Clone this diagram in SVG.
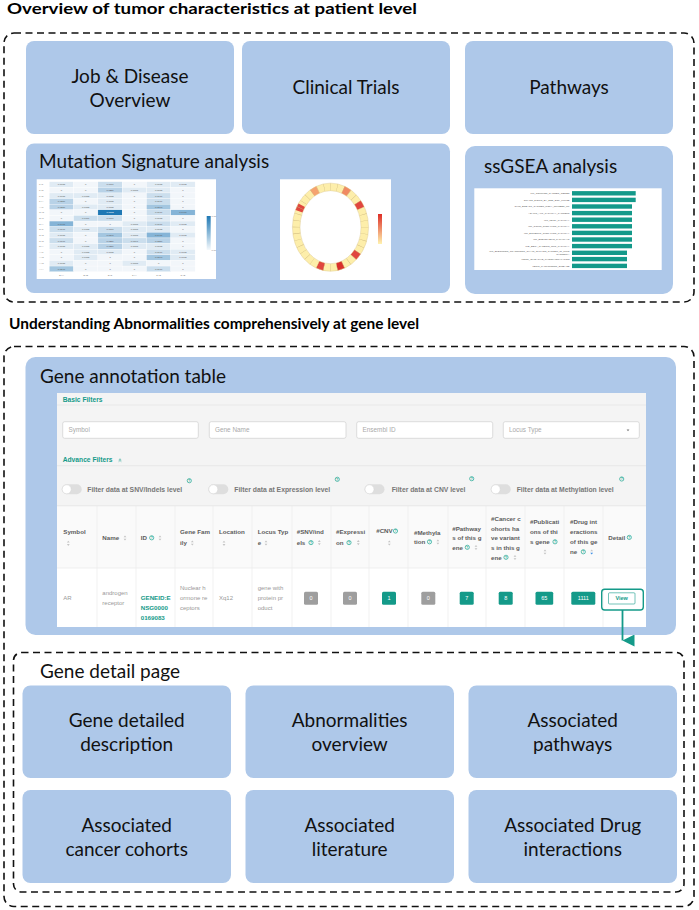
<svg xmlns="http://www.w3.org/2000/svg" width="699" height="910" viewBox="0 0 699 910">
<defs>
<style>
.dash{fill:none;stroke:#111;stroke-width:1.6;stroke-dasharray:7 4.5}
.box{fill:#aec8e9}
.lbl{font-family:Lato,"Open Sans","Liberation Sans",sans-serif;font-size:19px;fill:#111;text-anchor:middle}
.lbs{font-family:Lato,"Open Sans","Liberation Sans",sans-serif;font-size:19px;fill:#111}
.ttl{font-family:Lato,"Liberation Sans",sans-serif;font-weight:bold;font-size:15.5px;fill:#000}
.th{font-family:"Liberation Sans",Arial,sans-serif;font-size:6.2px;font-weight:bold;fill:#5c5c5c}
.td{font-family:"Liberation Sans",Arial,sans-serif;font-size:6px;fill:#999}
.tl{font-family:"Liberation Sans",Arial,sans-serif;font-size:6.7px;font-weight:bold;fill:#149a89}
.fl{font-family:"Liberation Sans",Arial,sans-serif;font-size:6.8px;font-weight:bold;fill:#777}
.ph{font-family:"Liberation Sans",Arial,sans-serif;font-size:6.4px;fill:#aaa}
.inp{fill:#fff;stroke:#cfcfcf;stroke-width:0.7}
.tog{fill:#dedede}
.knob{fill:#fff;stroke:#d4d4d4;stroke-width:0.5}
.qi{fill:none;stroke:#1aa58f;stroke-width:0.7}
.qt{font-family:"Liberation Sans",Arial,sans-serif;font-size:3.2px;font-weight:bold;fill:#1aa58f;text-anchor:middle}
.vl{stroke:#ebebeb;stroke-width:0.7}
.bg{fill:#9e9e9e}
.bt{fill:#149a89}
.bx{font-family:"Liberation Sans",Arial,sans-serif;font-size:5.5px;fill:#fff;text-anchor:middle}
.hv{font-family:"Liberation Sans",Arial,sans-serif;font-size:2.4px;fill:#555;text-anchor:middle}
.hl{font-family:"Liberation Sans",Arial,sans-serif;font-size:2.4px;fill:#777}
.v0{fill:#f2f6fa}.v1{fill:#e0ebf4}.v2{fill:#cbdeed}.v3{fill:#b8d2e7}.v4{fill:#a3c6e0}.v5{fill:#85b4d7}.v6{fill:#1f78b4}
.cell rect{stroke:#fff;stroke-width:0.3}
.gs{font-family:"Liberation Sans",Arial,sans-serif;font-size:2.5px;fill:#555;text-anchor:end}
.bar{fill:#13998a}
</style>
<symbol id="sort" viewBox="-2 -4 4 8" width="4" height="8" overflow="visible">
<path d="M-1.4,-0.7 L0,-2.6 L1.4,-0.7 Z M-1.4,0.7 L0,2.6 L1.4,0.7 Z" fill="#c4c4c4"/>
</symbol>
<linearGradient id="gblue" x1="0" y1="0" x2="0" y2="1"><stop offset="0" stop-color="#1f78b4"/><stop offset="1" stop-color="#f5f9fc"/></linearGradient>
<linearGradient id="gred" x1="0" y1="0" x2="0" y2="1"><stop offset="0" stop-color="#de2d26"/><stop offset="1" stop-color="#fff3b0"/></linearGradient>
<marker id="ah" viewBox="0 0 12 12" refX="6" refY="12" markerWidth="12" markerHeight="12" markerUnits="userSpaceOnUse" orient="auto-start-reverse"><path d="M0,0 L12,0 L6,12 Z" fill="#149a89"/></marker>
</defs>

<rect width="699" height="910" fill="#fff"/>

<!-- Section 1 -->
<text class="ttl" x="7" y="14" textLength="410" lengthAdjust="spacingAndGlyphs">Overview of tumor characteristics at patient level</text>
<rect id="section-patient" class="dash" x="4" y="33" width="690" height="269" rx="10"/>

<g id="job-disease">
<rect class="box" x="26" y="41" width="208" height="93" rx="8"/>
<text class="lbl" x="130" y="83">Job &amp; Disease</text>
<text class="lbl" x="130" y="107">Overview</text>
</g>
<g id="clinical-trials">
<rect class="box" x="242" y="41" width="208" height="93" rx="8"/>
<text class="lbl" x="346" y="94">Clinical Trials</text>
</g>
<g id="pathways">
<rect class="box" x="465" y="41" width="208" height="93" rx="8"/>
<text class="lbl" x="569" y="94">Pathways</text>
</g>

<g id="mutation-signature">
<rect class="box" x="26" y="143.5" width="424" height="149.5" rx="8"/>
<text class="lbs" x="39" y="168">Mutation Signature analysis</text>
<!-- heatmap -->
<rect x="36.7" y="179.3" width="179.3" height="99.7" fill="#fff"/>
<g class="cell">
<g transform="translate(0,181.7)"><rect class="v1" x="49.3" y="0" width="24.3" height="5.625"/><rect class="v0" x="73.6" y="0" width="24.3" height="5.625"/><rect class="v2" x="97.9" y="0" width="24.3" height="5.625"/><rect class="v0" x="122.2" y="0" width="24.3" height="5.625"/><rect class="v1" x="146.5" y="0" width="24.3" height="5.625"/><rect class="v1" x="170.8" y="0" width="24.3" height="5.625"/>
<text class="hv" x="61.45" y="3.6">0.0085</text><text class="hv" x="85.75" y="3.6">0</text><text class="hv" x="110.05" y="3.6">0.0177</text><text class="hv" x="134.35" y="3.6">0</text><text class="hv" x="158.65" y="3.6">0.0085</text><text class="hv" x="182.95" y="3.6">0.0085</text><text class="hl" x="39" y="3.6">T&gt;T</text></g>
<g transform="translate(0,187.325)"><rect class="v0" x="49.3" y="0" width="24.3" height="5.625"/><rect class="v0" x="73.6" y="0" width="24.3" height="5.625"/><rect class="v3" x="97.9" y="0" width="24.3" height="5.625"/><rect class="v1" x="122.2" y="0" width="24.3" height="5.625"/><rect class="v1" x="146.5" y="0" width="24.3" height="5.625"/><rect class="v0" x="170.8" y="0" width="24.3" height="5.625"/>
<text class="hv" x="61.45" y="3.6">0</text><text class="hv" x="85.75" y="3.6">0</text><text class="hv" x="110.05" y="3.6">0.0256</text><text class="hv" x="134.35" y="3.6">0.0085</text><text class="hv" x="158.65" y="3.6">0.0085</text><text class="hv" x="182.95" y="3.6">0</text><text class="hl" x="39" y="3.6">T&gt;G</text></g>
<g transform="translate(0,192.95)"><rect class="v1" x="49.3" y="0" width="24.3" height="5.625"/><rect class="v1" x="73.6" y="0" width="24.3" height="5.625"/><rect class="v1" x="97.9" y="0" width="24.3" height="5.625"/><rect class="v0" x="122.2" y="0" width="24.3" height="5.625"/><rect class="v2" x="146.5" y="0" width="24.3" height="5.625"/><rect class="v0" x="170.8" y="0" width="24.3" height="5.625"/>
<text class="hv" x="61.45" y="3.6">0.0085</text><text class="hv" x="85.75" y="3.6">0.0085</text><text class="hv" x="110.05" y="3.6">0.0085</text><text class="hv" x="134.35" y="3.6">0</text><text class="hv" x="158.65" y="3.6">0.0177</text><text class="hv" x="182.95" y="3.6">0</text><text class="hl" x="39" y="3.6">T&gt;C</text></g>
<g transform="translate(0,198.575)"><rect class="v3" x="49.3" y="0" width="24.3" height="5.625"/><rect class="v0" x="73.6" y="0" width="24.3" height="5.625"/><rect class="v1" x="97.9" y="0" width="24.3" height="5.625"/><rect class="v0" x="122.2" y="0" width="24.3" height="5.625"/><rect class="v2" x="146.5" y="0" width="24.3" height="5.625"/><rect class="v0" x="170.8" y="0" width="24.3" height="5.625"/>
<text class="hv" x="61.45" y="3.6">0.0256</text><text class="hv" x="85.75" y="3.6">0</text><text class="hv" x="110.05" y="3.6">0.0085</text><text class="hv" x="134.35" y="3.6">0</text><text class="hv" x="158.65" y="3.6">0.0177</text><text class="hv" x="182.95" y="3.6">0</text><text class="hl" x="39" y="3.6">T&gt;A</text></g>
<g transform="translate(0,204.2)"><rect class="v3" x="49.3" y="0" width="24.3" height="5.625"/><rect class="v1" x="73.6" y="0" width="24.3" height="5.625"/><rect class="v1" x="97.9" y="0" width="24.3" height="5.625"/><rect class="v0" x="122.2" y="0" width="24.3" height="5.625"/><rect class="v4" x="146.5" y="0" width="24.3" height="5.625"/><rect class="v0" x="170.8" y="0" width="24.3" height="5.625"/>
<text class="hv" x="61.45" y="3.6">0.0256</text><text class="hv" x="85.75" y="3.6">0.0085</text><text class="hv" x="110.05" y="3.6">0.0085</text><text class="hv" x="134.35" y="3.6">0</text><text class="hv" x="158.65" y="3.6">0.0340</text><text class="hv" x="182.95" y="3.6">0</text><text class="hl" x="39" y="3.6">A&gt;T</text></g>
<g transform="translate(0,209.825)"><rect class="v0" x="49.3" y="0" width="24.3" height="5.625"/><rect class="v0" x="73.6" y="0" width="24.3" height="5.625"/><rect class="v6" x="97.9" y="0" width="24.3" height="5.625"/><rect class="v0" x="122.2" y="0" width="24.3" height="5.625"/><rect class="v2" x="146.5" y="0" width="24.3" height="5.625"/><rect class="v5" x="170.8" y="0" width="24.3" height="5.625"/>
<text class="hv" x="61.45" y="3.6">0</text><text class="hv" x="85.75" y="3.6">0</text><text class="hv" x="110.05" y="3.6" style="fill:#fff">0.0803</text><text class="hv" x="134.35" y="3.6">0</text><text class="hv" x="158.65" y="3.6">0.0177</text><text class="hv" x="182.95" y="3.6">0.0467</text><text class="hl" x="39" y="3.6">G&gt;G</text></g>
<g transform="translate(0,215.45)"><rect class="v0" x="49.3" y="0" width="24.3" height="5.625"/><rect class="v2" x="73.6" y="0" width="24.3" height="5.625"/><rect class="v2" x="97.9" y="0" width="24.3" height="5.625"/><rect class="v0" x="122.2" y="0" width="24.3" height="5.625"/><rect class="v1" x="146.5" y="0" width="24.3" height="5.625"/><rect class="v0" x="170.8" y="0" width="24.3" height="5.625"/>
<text class="hv" x="61.45" y="3.6">0</text><text class="hv" x="85.75" y="3.6">0.0177</text><text class="hv" x="110.05" y="3.6">0.0177</text><text class="hv" x="134.35" y="3.6">0</text><text class="hv" x="158.65" y="3.6">0.0085</text><text class="hv" x="182.95" y="3.6">0</text><text class="hl" x="39" y="3.6">G&gt;T</text></g>
<g transform="translate(0,221.075)"><rect class="v5" x="49.3" y="0" width="24.3" height="5.625"/><rect class="v0" x="73.6" y="0" width="24.3" height="5.625"/><rect class="v0" x="97.9" y="0" width="24.3" height="5.625"/><rect class="v1" x="122.2" y="0" width="24.3" height="5.625"/><rect class="v2" x="146.5" y="0" width="24.3" height="5.625"/><rect class="v1" x="170.8" y="0" width="24.3" height="5.625"/>
<text class="hv" x="61.45" y="3.6">0.0467</text><text class="hv" x="85.75" y="3.6">0</text><text class="hv" x="110.05" y="3.6">0</text><text class="hv" x="134.35" y="3.6">0.0085</text><text class="hv" x="158.65" y="3.6">0.0177</text><text class="hv" x="182.95" y="3.6">0.0085</text><text class="hl" x="39" y="3.6">C&gt;A</text></g>
<g transform="translate(0,226.7)"><rect class="v2" x="49.3" y="0" width="24.3" height="5.625"/><rect class="v1" x="73.6" y="0" width="24.3" height="5.625"/><rect class="v2" x="97.9" y="0" width="24.3" height="5.625"/><rect class="v1" x="122.2" y="0" width="24.3" height="5.625"/><rect class="v1" x="146.5" y="0" width="24.3" height="5.625"/><rect class="v0" x="170.8" y="0" width="24.3" height="5.625"/>
<text class="hv" x="61.45" y="3.6">0.0177</text><text class="hv" x="85.75" y="3.6">0.0085</text><text class="hv" x="110.05" y="3.6">0.0177</text><text class="hv" x="134.35" y="3.6">0.0085</text><text class="hv" x="158.65" y="3.6">0.0085</text><text class="hv" x="182.95" y="3.6">0</text><text class="hl" x="39" y="3.6">C&gt;T</text></g>
<g transform="translate(0,232.325)"><rect class="v1" x="49.3" y="0" width="24.3" height="5.625"/><rect class="v0" x="73.6" y="0" width="24.3" height="5.625"/><rect class="v4" x="97.9" y="0" width="24.3" height="5.625"/><rect class="v1" x="122.2" y="0" width="24.3" height="5.625"/><rect class="v5" x="146.5" y="0" width="24.3" height="5.625"/><rect class="v1" x="170.8" y="0" width="24.3" height="5.625"/>
<text class="hv" x="61.45" y="3.6">0.0085</text><text class="hv" x="85.75" y="3.6">0</text><text class="hv" x="110.05" y="3.6">0.0340</text><text class="hv" x="134.35" y="3.6">0.0085</text><text class="hv" x="158.65" y="3.6">0.0467</text><text class="hv" x="182.95" y="3.6">0.0085</text><text class="hl" x="39" y="3.6">C&gt;G</text></g>
<g transform="translate(0,237.95)"><rect class="v2" x="49.3" y="0" width="24.3" height="5.625"/><rect class="v0" x="73.6" y="0" width="24.3" height="5.625"/><rect class="v3" x="97.9" y="0" width="24.3" height="5.625"/><rect class="v2" x="122.2" y="0" width="24.3" height="5.625"/><rect class="v3" x="146.5" y="0" width="24.3" height="5.625"/><rect class="v0" x="170.8" y="0" width="24.3" height="5.625"/>
<text class="hv" x="61.45" y="3.6">0.0177</text><text class="hv" x="85.75" y="3.6">0</text><text class="hv" x="110.05" y="3.6">0.0256</text><text class="hv" x="134.35" y="3.6">0.0177</text><text class="hv" x="158.65" y="3.6">0.0256</text><text class="hv" x="182.95" y="3.6">0</text><text class="hl" x="39" y="3.6">C&gt;C</text></g>
<g transform="translate(0,243.575)"><rect class="v1" x="49.3" y="0" width="24.3" height="5.625"/><rect class="v1" x="73.6" y="0" width="24.3" height="5.625"/><rect class="v3" x="97.9" y="0" width="24.3" height="5.625"/><rect class="v1" x="122.2" y="0" width="24.3" height="5.625"/><rect class="v1" x="146.5" y="0" width="24.3" height="5.625"/><rect class="v0" x="170.8" y="0" width="24.3" height="5.625"/>
<text class="hv" x="61.45" y="3.6">0.0085</text><text class="hv" x="85.75" y="3.6">0.0085</text><text class="hv" x="110.05" y="3.6">0.0256</text><text class="hv" x="134.35" y="3.6">0.0085</text><text class="hv" x="158.65" y="3.6">0.0085</text><text class="hv" x="182.95" y="3.6">0</text><text class="hl" x="39" y="3.6">C&gt;A</text></g>
<g transform="translate(0,249.2)"><rect class="v0" x="49.3" y="0" width="24.3" height="5.625"/><rect class="v1" x="73.6" y="0" width="24.3" height="5.625"/><rect class="v1" x="97.9" y="0" width="24.3" height="5.625"/><rect class="v0" x="122.2" y="0" width="24.3" height="5.625"/><rect class="v2" x="146.5" y="0" width="24.3" height="5.625"/><rect class="v1" x="170.8" y="0" width="24.3" height="5.625"/>
<text class="hv" x="61.45" y="3.6">0</text><text class="hv" x="85.75" y="3.6">0.0085</text><text class="hv" x="110.05" y="3.6">0.0085</text><text class="hv" x="134.35" y="3.6">0</text><text class="hv" x="158.65" y="3.6">0.0177</text><text class="hv" x="182.95" y="3.6">0.0085</text><text class="hl" x="39" y="3.6">A&gt;T</text></g>
<g transform="translate(0,254.825)"><rect class="v0" x="49.3" y="0" width="24.3" height="5.625"/><rect class="v1" x="73.6" y="0" width="24.3" height="5.625"/><rect class="v0" x="97.9" y="0" width="24.3" height="5.625"/><rect class="v0" x="122.2" y="0" width="24.3" height="5.625"/><rect class="v4" x="146.5" y="0" width="24.3" height="5.625"/><rect class="v1" x="170.8" y="0" width="24.3" height="5.625"/>
<text class="hv" x="61.45" y="3.6">0</text><text class="hv" x="85.75" y="3.6">0.0085</text><text class="hv" x="110.05" y="3.6">0</text><text class="hv" x="134.35" y="3.6">0</text><text class="hv" x="158.65" y="3.6">0.0340</text><text class="hv" x="182.95" y="3.6">0.0085</text><text class="hl" x="39" y="3.6">A&gt;G</text></g>
<g transform="translate(0,260.45)"><rect class="v1" x="49.3" y="0" width="24.3" height="5.625"/><rect class="v0" x="73.6" y="0" width="24.3" height="5.625"/><rect class="v0" x="97.9" y="0" width="24.3" height="5.625"/><rect class="v1" x="122.2" y="0" width="24.3" height="5.625"/><rect class="v0" x="146.5" y="0" width="24.3" height="5.625"/><rect class="v0" x="170.8" y="0" width="24.3" height="5.625"/>
<text class="hv" x="61.45" y="3.6">0.0085</text><text class="hv" x="85.75" y="3.6">0</text><text class="hv" x="110.05" y="3.6">0</text><text class="hv" x="134.35" y="3.6">0.0085</text><text class="hv" x="158.65" y="3.6">0</text><text class="hv" x="182.95" y="3.6">0</text><text class="hl" x="39" y="3.6">A&gt;C</text></g>
<g transform="translate(0,266.075)"><rect class="v4" x="49.3" y="0" width="24.3" height="5.625"/><rect class="v0" x="73.6" y="0" width="24.3" height="5.625"/><rect class="v0" x="97.9" y="0" width="24.3" height="5.625"/><rect class="v0" x="122.2" y="0" width="24.3" height="5.625"/><rect class="v2" x="146.5" y="0" width="24.3" height="5.625"/><rect class="v0" x="170.8" y="0" width="24.3" height="5.625"/>
<text class="hv" x="61.45" y="3.6">0.0340</text><text class="hv" x="85.75" y="3.6">0</text><text class="hv" x="110.05" y="3.6">0</text><text class="hv" x="134.35" y="3.6">0</text><text class="hv" x="158.65" y="3.6">0.0177</text><text class="hv" x="182.95" y="3.6">0</text><text class="hl" x="39" y="3.6">A&gt;A</text></g>
</g>
<text class="hv" x="61.45" y="276">C&gt;A</text><text class="hv" x="85.75" y="276">C&gt;G</text><text class="hv" x="110.05" y="276">C&gt;T</text><text class="hv" x="134.35" y="276">T&gt;A</text><text class="hv" x="158.65" y="276">T&gt;C</text><text class="hv" x="182.95" y="276">T&gt;G</text>
<rect x="206.7" y="216" width="4" height="34" fill="url(#gblue)"/>
<text class="hl" x="211.5" y="217">0.08</text>
<text class="hl" x="211.5" y="251">0.00</text>
<!-- circos -->
<rect x="280" y="179.3" width="111" height="100.7" fill="#fff"/>
<ellipse cx="330.5" cy="227.2" rx="34.3" ry="40.3" fill="none" stroke="#fdeeaa" stroke-width="7.5"/>
<g fill="none" stroke-width="7.5">
<ellipse cx="330.5" cy="227.2" rx="34.3" ry="40.3" pathLength="360" stroke="#f5a36f" stroke-dasharray="10 350" stroke-dashoffset="-240"/>
<ellipse cx="330.5" cy="227.2" rx="34.3" ry="40.3" pathLength="360" stroke="#f08a62" stroke-dasharray="10 350" stroke-dashoffset="-290"/>
<ellipse cx="330.5" cy="227.2" rx="34.3" ry="40.3" pathLength="360" stroke="#e0463e" stroke-dasharray="10 350" stroke-dashoffset="-320"/>
<ellipse cx="330.5" cy="227.2" rx="34.3" ry="40.3" pathLength="360" stroke="#e0463e" stroke-dasharray="10 350" stroke-dashoffset="-205"/>
<ellipse cx="330.5" cy="227.2" rx="34.3" ry="40.3" pathLength="360" stroke="#e0463e" stroke-dasharray="10 350" stroke-dashoffset="-40"/>
<ellipse cx="330.5" cy="227.2" rx="34.3" ry="40.3" pathLength="360" stroke="#e0463e" stroke-dasharray="10 350" stroke-dashoffset="-100"/>
<ellipse cx="330.5" cy="227.2" rx="34.3" ry="40.3" pathLength="360" stroke="#d9302b" stroke-dasharray="10 350" stroke-dashoffset="-70"/>
<ellipse cx="330.5" cy="227.2" rx="34.3" ry="40.3" pathLength="360" stroke="#c9b27a" stroke-dasharray="0.5 9.5"/>
</g>
<ellipse cx="330.5" cy="227.2" rx="38.1" ry="44.1" fill="none" stroke="#d8c690" stroke-width="0.4"/>
<ellipse cx="330.5" cy="227.2" rx="30.5" ry="36.5" fill="none" stroke="#d8c690" stroke-width="0.4"/>
<rect x="378" y="214" width="4" height="30" fill="url(#gred)"/>
</g>

<g id="ssgsea">
<rect class="box" x="465" y="146" width="208" height="148" rx="10"/>
<text class="lbs" x="484" y="173">ssGSEA analysis</text>
<rect x="474.3" y="188.3" width="187.4" height="81.7" fill="#fff"/>
<text class="gs" x="569.5" y="194.2">LIU_COMMON_CANCER_GENES</text>
<text class="gs" x="569.5" y="200.8">ZWANG_DOWN_BY_2ND_EGF_PULSE</text>
<text class="gs" x="569.5" y="207.4">CHIN_BREAST_CANCER_COPY_NUMBER_UP</text>
<text class="gs" x="569.5" y="214">ADAMS_AKT_PATHWAY_TARGETS</text>
<text class="gs" x="569.5" y="220.6">WP_PDGF_PATHWAY</text>
<text class="gs" x="569.5" y="227.2">WP_CCL18_SIGNALING_PATHWAY</text>
<text class="gs" x="569.5" y="233.8">WP_EGFEGFR_SIGNALING_PATHWAY</text>
<text class="gs" x="569.5" y="240.4">WP_ENDOTHELIN_PATHWAYS</text>
<text class="gs" x="569.5" y="247">PID_BETA_CATENIN_NUC_PATHWAY</text>
<text class="gs" x="569.5" y="251.6">WP_ELECTRON_TRANSPORT_CHAIN_OXPHOS_SYSTEM_IN_MITO</text>
<text class="gs" x="569.5" y="254.8">CHONDRIA</text>
<text class="gs" x="569.5" y="260">KEGG_OXIDATIVE_PHOSPHORYLATION</text>
<text class="gs" x="569.5" y="266.8">KEGG_PARKINSONS_DISEASE</text>
<rect class="bar" x="572" y="191.1" width="63.7" height="4.4"/>
<rect class="bar" x="572" y="197.7" width="63.7" height="4.4"/>
<rect class="bar" x="572" y="204.3" width="60" height="4.4"/>
<rect class="bar" x="572" y="210.9" width="60" height="4.4"/>
<rect class="bar" x="572" y="217.5" width="60" height="4.4"/>
<rect class="bar" x="572" y="224.1" width="60" height="4.4"/>
<rect class="bar" x="572" y="230.7" width="60" height="4.4"/>
<rect class="bar" x="572" y="237.3" width="60" height="4.4"/>
<rect class="bar" x="572" y="243.9" width="60" height="4.4"/>
<rect class="bar" x="572" y="250.6" width="55" height="4.4"/>
<rect class="bar" x="572" y="256.9" width="55" height="4.4"/>
<rect class="bar" x="572" y="263.7" width="55" height="4.4"/>
</g>

<!-- Section 2 -->
<text class="ttl" x="9" y="329" textLength="410" lengthAdjust="spacingAndGlyphs">Understanding Abnormalities comprehensively at gene level</text>
<rect id="section-gene" class="dash" x="4" y="346.5" width="690" height="560" rx="10"/>

<g id="gene-annotation-table">
<rect class="box" x="25.5" y="357" width="650.5" height="278" rx="10"/>
<text class="lbs" x="40" y="383">Gene annotation table</text>
<rect x="57" y="393" width="589" height="234" fill="#f4f4f4"/>
<text class="tl" x="62.7" y="401.5">Basic Filters</text>
<line x1="57" y1="405" x2="646" y2="405" stroke="#e2e2e2" stroke-width="0.7"/>
<rect class="inp" x="62.7" y="421.7" width="135.6" height="16.6" rx="2"/>
<rect class="inp" x="209.3" y="421.7" width="136.7" height="16.6" rx="2"/>
<rect class="inp" x="356.7" y="421.7" width="136" height="16.6" rx="2"/>
<rect class="inp" x="503.3" y="421.7" width="136" height="16.6" rx="2"/>
<text class="ph" x="68.5" y="432.3">Symbol</text>
<text class="ph" x="215" y="432.3">Gene Name</text>
<text class="ph" x="362.5" y="432.3">Ensembl ID</text>
<text class="ph" x="509" y="432.3">Locus Type</text>
<path d="M626.6,429.4 L629.4,429.4 L628,431.2 Z" fill="#777"/>
<text class="tl" x="62.7" y="461.5">Advance Filters</text>
<path d="M118.7,460 L120,458.8 L121.3,460 M118.7,461.6 L120,460.4 L121.3,461.6" fill="none" stroke="#149a89" stroke-width="0.6"/>
<line x1="57" y1="465.7" x2="646" y2="465.7" stroke="#e2e2e2" stroke-width="0.7"/>
<!-- toggles -->
<rect class="tog" x="61.7" y="484.3" width="20" height="10" rx="5"/><circle class="knob" cx="66.7" cy="489.3" r="4.5"/>
<text class="fl" x="87.3" y="491.7">Filter data at SNV/Indels level</text>
<circle class="qi" cx="189.3" cy="480.7" r="2.1"/><text class="qt" x="189.3" y="481.9">?</text>
<rect class="tog" x="208.3" y="484.3" width="20" height="10" rx="5"/><circle class="knob" cx="213.3" cy="489.3" r="4.5"/>
<text class="fl" x="234.3" y="491.7">Filter data at Expression level</text>
<circle class="qi" cx="337.3" cy="479.3" r="2.1"/><text class="qt" x="337.3" y="480.5">?</text>
<rect class="tog" x="364.5" y="484.3" width="20" height="10" rx="5"/><circle class="knob" cx="369.5" cy="489.3" r="4.5"/>
<text class="fl" x="391.7" y="491.7">Filter data at CNV level</text>
<circle class="qi" cx="471.7" cy="478.7" r="2.1"/><text class="qt" x="471.7" y="479.9">?</text>
<rect class="tog" x="490.7" y="484.3" width="20" height="10" rx="5"/><circle class="knob" cx="495.7" cy="489.3" r="4.5"/>
<text class="fl" x="516.7" y="491.7">Filter data at Methylation level</text>
<circle class="qi" cx="621.7" cy="479" r="2.1"/><text class="qt" x="621.7" y="480.2">?</text>
<!-- table -->
<rect x="57" y="506" width="589" height="62" fill="#fafafa"/>
<rect x="57" y="568" width="589" height="59" fill="#fff"/>
<line x1="57" y1="505.8" x2="646" y2="505.8" stroke="#e4e4e4" stroke-width="0.7"/>
<line x1="57" y1="568" x2="646" y2="568" stroke="#e8e8e8" stroke-width="0.7"/>
<g class="vl">
<line x1="97" y1="506" x2="97" y2="627"/><line x1="136" y1="506" x2="136" y2="627"/><line x1="175" y1="506" x2="175" y2="627"/><line x1="213" y1="506" x2="213" y2="627"/><line x1="252" y1="506" x2="252" y2="627"/><line x1="292" y1="506" x2="292" y2="627"/><line x1="331" y1="506" x2="331" y2="627"/><line x1="369" y1="506" x2="369" y2="627"/><line x1="408" y1="506" x2="408" y2="627"/><line x1="448" y1="506" x2="448" y2="627"/><line x1="486" y1="506" x2="486" y2="627"/><line x1="525" y1="506" x2="525" y2="627"/><line x1="564" y1="506" x2="564" y2="627"/><line x1="603" y1="506" x2="603" y2="627"/>
</g>
<!-- header -->
<text class="th" x="63.3" y="533.5">Symbol</text><use href="#sort" x="66.3" y="539.3"/>
<text class="th" x="102.3" y="540">Name</text><use href="#sort" x="123" y="534"/>
<text class="th" x="140.7" y="540">ID</text><circle class="qi" cx="151.7" cy="537.8" r="2.1"/><text class="qt" x="151.7" y="539">?</text><use href="#sort" x="158" y="534"/>
<text class="th" x="180" y="533.5">Gene Fam</text><text class="th" x="180" y="545">ily</text><use href="#sort" x="190.3" y="539"/>
<text class="th" x="219" y="533.5">Location</text><use href="#sort" x="222" y="539.3"/>
<text class="th" x="257.7" y="533.5">Locus Typ</text><text class="th" x="257.7" y="545">e</text><use href="#sort" x="264" y="539"/>
<text class="th" x="296.7" y="533.5">#SNV/ind</text><text class="th" x="296.7" y="545">els</text><circle class="qi" cx="311" cy="542.6" r="2.1"/><text class="qt" x="311" y="543.8">?</text><use href="#sort" x="317.3" y="538.6"/>
<text class="th" x="336" y="533.5">#Expressi</text><text class="th" x="336" y="545">on</text><circle class="qi" cx="349" cy="542.6" r="2.1"/><text class="qt" x="349" y="543.8">?</text><use href="#sort" x="356.3" y="538.6"/>
<text class="th" x="376.2" y="533.2">#CNV</text><circle class="qi" cx="395.5" cy="531" r="2.1"/><text class="qt" x="395.5" y="532.2">?</text><use href="#sort" x="387.3" y="539"/>
<text class="th" x="414" y="534.5">#Methyla</text><text class="th" x="414" y="544">tion</text><circle class="qi" cx="429.5" cy="541.8" r="2.1"/><text class="qt" x="429.5" y="543">?</text><use href="#sort" x="435.9" y="538"/>
<text class="th" x="452.3" y="530.5">#Pathway</text><text class="th" x="452.3" y="540">s of this g</text><text class="th" x="452.3" y="549.5">ene</text><circle class="qi" cx="467.3" cy="547.3" r="2.1"/><text class="qt" x="467.3" y="548.5">?</text><use href="#sort" x="474" y="543.5"/>
<text class="th" x="491" y="521">#Cancer c</text><text class="th" x="491" y="530.5">ohorts ha</text><text class="th" x="491" y="540">ve variant</text><text class="th" x="491" y="549.5">s in this g</text><text class="th" x="491" y="559.5">ene</text><circle class="qi" cx="506" cy="557.3" r="2.1"/><text class="qt" x="506" y="558.5">?</text><use href="#sort" x="513" y="553.5"/>
<text class="th" x="530" y="524">#Publicati</text><text class="th" x="530" y="534">ons of thi</text><text class="th" x="530" y="543.8">s gene</text><circle class="qi" cx="555" cy="541.8" r="2.1"/><text class="qt" x="555" y="543">?</text><use href="#sort" x="543" y="548"/>
<text class="th" x="570" y="524">#Drug int</text><text class="th" x="570" y="534">eractions</text><text class="th" x="570" y="544">of this ge</text><text class="th" x="570" y="554">ne</text><circle class="qi" cx="583.3" cy="551.8" r="2.1"/><text class="qt" x="583.3" y="553">?</text>
<path d="M590.3,551.3 L591.7,549.4 L593.1,551.3 Z" fill="#c4c4c4"/><path d="M590.3,552.7 L591.7,554.6 L593.1,552.7 Z" fill="#3a8ee6"/>
<text class="th" x="608.3" y="539.5">Detail</text><circle class="qi" cx="629.3" cy="537.4" r="2.1"/><text class="qt" x="629.3" y="538.6">?</text>
<!-- body -->
<text class="td" x="63.3" y="600.3">AR</text>
<text class="td" x="102.3" y="595">androgen</text><text class="td" x="102.3" y="605">receptor</text>
<text class="th" x="140.7" y="600.3" style="fill:#149a89">GENEID:E</text><text class="th" x="140.7" y="610.3" style="fill:#149a89">NSG0000</text><text class="th" x="140.7" y="620.3" style="fill:#149a89">0169083</text>
<text class="td" x="180" y="590">Nuclear h</text><text class="td" x="180" y="600">ormone re</text><text class="td" x="180" y="610">ceptors</text>
<text class="td" x="219" y="600.3">Xq12</text>
<text class="td" x="257.7" y="590">gene with</text><text class="td" x="257.7" y="600">protein pr</text><text class="td" x="257.7" y="610">oduct</text>
<rect class="bg" x="304" y="591.8" width="14" height="13" rx="1.5"/><text class="bx" x="311" y="600.3">0</text>
<rect class="bg" x="343" y="591.8" width="14" height="13" rx="1.5"/><text class="bx" x="350" y="600.3">0</text>
<rect class="bt" x="382" y="591.8" width="14" height="13" rx="1.5"/><text class="bx" x="389" y="600.3">1</text>
<rect class="bg" x="421.3" y="591.8" width="14" height="13" rx="1.5"/><text class="bx" x="428.3" y="600.3">0</text>
<rect class="bt" x="459.7" y="591.8" width="14" height="13" rx="1.5"/><text class="bx" x="466.7" y="600.3">7</text>
<rect class="bt" x="498.7" y="591.8" width="14" height="13" rx="1.5"/><text class="bx" x="505.7" y="600.3">8</text>
<rect class="bt" x="535.5" y="591.8" width="17.7" height="13" rx="1.5"/><text class="bx" x="544.3" y="600.3">65</text>
<rect class="bt" x="571.3" y="591.8" width="24" height="13" rx="1.5"/><text class="bx" x="583.3" y="600.3">1111</text>
<rect x="608.5" y="592.8" width="26.5" height="11.2" rx="1" fill="#fff" stroke="#149a89" stroke-width="0.6"/>
<text class="bx" x="621.7" y="600.3" style="fill:#149a89;font-weight:bold">View</text>
<rect x="601.7" y="589.3" width="41.6" height="20.7" rx="3" fill="none" stroke="#149a89" stroke-width="1.4"/>
</g>

<g id="gene-detail-page">
<rect class="dash" x="13.5" y="652.5" width="670.5" height="239.5" rx="8"/>
<text class="lbs" x="40" y="678">Gene detail page</text>
</g>
<g id="gene-detailed-description">
<rect class="box" x="22.5" y="685.5" width="208.5" height="92.5" rx="8"/>
<text class="lbl" x="126.7" y="727">Gene detailed</text>
<text class="lbl" x="126.7" y="751">description</text>
</g>
<g id="abnormalities-overview">
<rect class="box" x="245.5" y="685.5" width="208.5" height="92.5" rx="8"/>
<text class="lbl" x="349.7" y="727">Abnormalities</text>
<text class="lbl" x="349.7" y="751">overview</text>
</g>
<g id="associated-pathways">
<rect class="box" x="468.5" y="685.5" width="208.5" height="92.5" rx="8"/>
<text class="lbl" x="572.7" y="727">Associated</text>
<text class="lbl" x="572.7" y="751">pathways</text>
</g>
<g id="associated-cancer-cohorts">
<rect class="box" x="22.5" y="790" width="208.5" height="93" rx="8"/>
<text class="lbl" x="126.7" y="831.5">Associated</text>
<text class="lbl" x="126.7" y="855.5">cancer cohorts</text>
</g>
<g id="associated-literature">
<rect class="box" x="245.5" y="790" width="208.5" height="93" rx="8"/>
<text class="lbl" x="349.7" y="831.5">Associated</text>
<text class="lbl" x="349.7" y="855.5">literature</text>
</g>
<g id="associated-drug-interactions">
<rect class="box" x="468.5" y="790" width="208.5" height="93" rx="8"/>
<text class="lbl" x="572.7" y="831.5">Associated Drug</text>
<text class="lbl" x="572.7" y="855.5">interactions</text>
</g>

<g id="connectors">
<line x1="622.5" y1="610" x2="622.5" y2="640.5" stroke="#149a89" stroke-width="1.8" marker-end="url(#ah)"/>
</g>
</svg>
